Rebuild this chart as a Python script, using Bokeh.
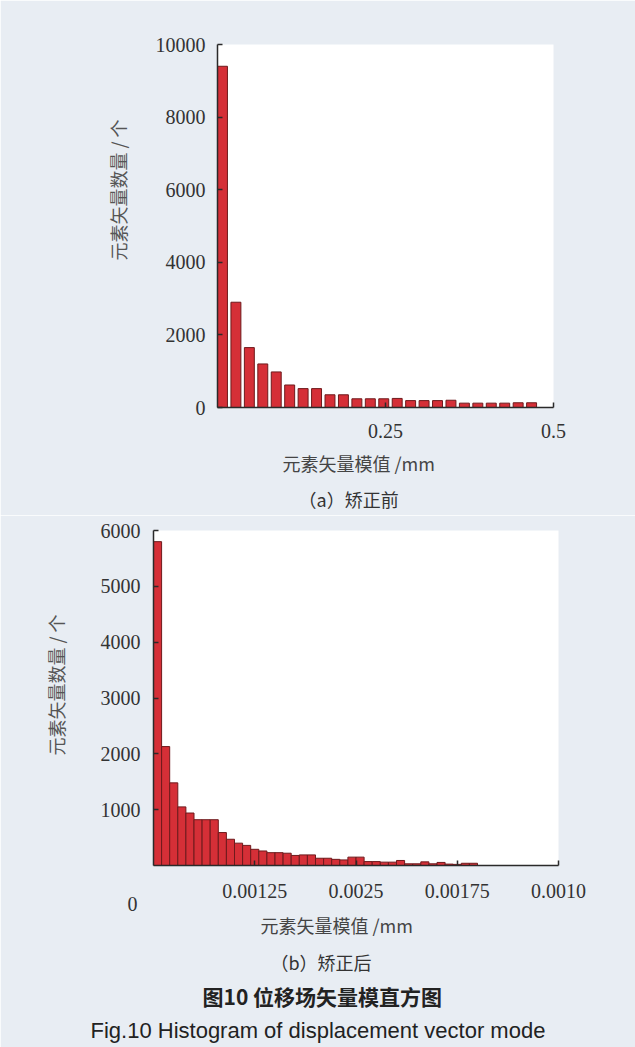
import numpy as np
from bokeh.plotting import figure
from bokeh.models import FixedTicker, Range1d, Title
from bokeh.embed import file_html
from bokeh.resources import INLINE

# ---------------- data ----------------
# (a) before correction
bin_width_a = 0.02
counts_a = [9400, 2900, 1650, 1200, 980, 620, 520, 520, 350, 350, 240, 240,
            240, 250, 190, 190, 190, 200, 120, 120, 120, 120, 130, 130]
yticks_a = [0, 2000, 4000, 6000, 8000, 10000]
xticks_a = [0.25, 0.5]
xtick_labels_a = ["0.25", "0.5"]

# (b) after correction
bin_width_b = 0.0002
counts_b = [5800, 2130, 1480, 1050, 940, 820, 820, 820, 590, 470, 400, 360,
            290, 260, 230, 230, 220, 180, 190, 190, 130, 130, 110, 100, 150,
            150, 70, 70, 60, 60, 90, 30, 30, 65, 30, 55, 25, 20, 40, 40]
yticks_b = [1000, 2000, 3000, 4000, 5000, 6000]
xticks_b = [0.0025, 0.005, 0.0075, 0.01]
xtick_labels_b = ["0.00125", "0.0025", "0.00175", "0.0010"]
origin_label_b = "0"

ylabel = "元素矢量数量 / 个"
xlabel = "元素矢量模值 /mm"
sub_a = "（a）矫正前"
sub_b = "（b）矫正后"
caption_cn = "图10  位移场矢量模直方图"
caption_en = "Fig.10  Histogram of displacement vector mode"

# ---------------- style ----------------
BG = "#e8edf3"
RED = "#d52f37"
DARK = "#6e1a1c"
AXIS = "#2a2a2a"
CJK = "Noto Sans CJK SC"
SERIF = "Liberation Serif"


def style(p, standoff_x, standoff_y):
    p.background_fill_alpha = 0
    p.border_fill_color = BG
    p.outline_line_color = None
    p.grid.visible = False
    for ax in p.axis:
        ax.axis_line_color = AXIS
        ax.axis_line_width = 1.5
        ax.major_tick_line_color = AXIS
        ax.major_tick_line_width = 1.5
        ax.major_tick_in = 5
        ax.major_tick_out = 0
        ax.minor_tick_line_color = None
        ax.major_label_text_font = SERIF
        ax.major_label_text_font_size = "20px"
        ax.major_label_text_color = "#333333"
    p.xaxis.major_label_standoff = standoff_x
    p.yaxis.major_label_standoff = standoff_y


def title(p, s, side, size, offset, standoff, color="#444444", font=CJK, bold=False):
    p.add_layout(Title(text=s, align="left", offset=offset, standoff=standoff,
                       text_font=font, text_font_size=size,
                       text_font_style="bold" if bold else "normal",
                       text_color=color), side)


# ---------------- (a) ----------------
p1 = figure(width=635, height=515, x_range=Range1d(0, 0.5), y_range=Range1d(0, 10000),
            output_backend="svg", toolbar_location=None,
            min_border_left=217, min_border_right=82,
            min_border_top=44, min_border_bottom=108)
edges_a = np.arange(len(counts_a)) * bin_width_a
p1.quad(left=edges_a, right=edges_a + 0.74 * bin_width_a, bottom=0, top=counts_a,
        fill_color=RED, line_color=DARK, line_width=1)
style(p1, 16, 12)
p1.xaxis.ticker = FixedTicker(ticks=xticks_a)
p1.xaxis.major_label_overrides = dict(zip(xticks_a, xtick_labels_a))
p1.yaxis.ticker = FixedTicker(ticks=yticks_a)

title(p1, ylabel, "left", "18px", 147, 43, color="#555555")
title(p1, xlabel, "below", "18px", 65, 15)
title(p1, sub_a, "below", "18px", 81, 1, color="#333333")

# ---------------- (b) ----------------
p2 = figure(width=635, height=532, x_range=Range1d(0, 0.01), y_range=Range1d(0, 6000),
            output_backend="svg", toolbar_location=None,
            min_border_left=153, min_border_right=77,
            min_border_top=15, min_border_bottom=182)
edges_b = np.arange(len(counts_b)) * bin_width_b
p2.quad(left=edges_b, right=edges_b + bin_width_b, bottom=0, top=counts_b,
        fill_color=RED, line_color=DARK, line_width=1)
style(p2, 18, 13)
p2.xaxis.ticker = FixedTicker(ticks=xticks_b)
p2.xaxis.major_label_overrides = dict(zip(xticks_b, xtick_labels_b))
p2.yaxis.ticker = FixedTicker(ticks=yticks_b)

title(p2, ylabel, "left", "18px", 110, 57, color="#555555")
title(p2, origin_label_b, "below", "20px", -26, -20, color="#333333", font=SERIF)
title(p2, xlabel, "below", "18px", 107, 18)
title(p2, sub_b, "below", "18px", 117, 0, color="#333333")
title(p2, caption_cn, "below", "21px", 49, 9, color="#222222", bold=True)
title(p2, caption_en, "below", "22px", -63, 0, color="#222222", font="Liberation Sans")

open("out.html", "w").write(file_html([p1, p2], INLINE))
